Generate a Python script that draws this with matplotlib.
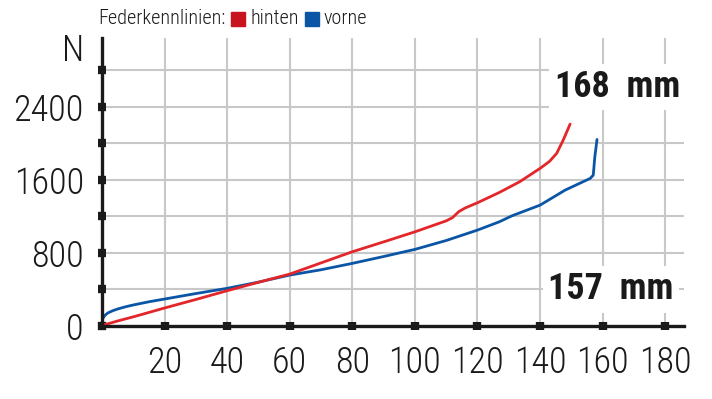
import matplotlib
matplotlib.use("Agg")
import matplotlib.pyplot as plt
from matplotlib import font_manager

# schmale Schrift suchen, sonst DejaVu
candidates = ["Roboto Condensed", "Archivo Narrow", "Liberation Sans Narrow",
              "PT Sans Narrow", "Barlow Condensed", "Fira Sans Condensed",
              "Encode Sans Condensed", "IBM Plex Sans Condensed", "DejaVu Sans"]
available = {f.name for f in font_manager.fontManager.ttflist}
FONT = next(c for c in candidates if c in available)
plt.rcParams["font.family"] = [FONT, "DejaVu Sans"]

# Federkennlinien (Weg in mm, Kraft in N)
hinten_x = [0, 2, 5, 10, 20, 30, 40, 50, 60, 70, 80, 90, 100, 110, 112, 114,
            116, 120, 127, 133.5, 140, 143, 145.3, 147.4, 149.6]
hinten_y = [10, 25, 55, 100, 197, 290, 386, 478, 568, 690, 812, 920, 1030,
            1150, 1185, 1250, 1290, 1348, 1461, 1578, 1724, 1800, 1888, 2033, 2208]
vorne_x = [0, 0.3, 0.7, 1.2, 2, 3.5, 5, 7.5, 10, 15, 20, 30, 40, 50, 60, 70,
           80, 90, 100, 110, 120, 127, 131, 140, 148, 156, 157, 157.5, 158.2]
vorne_y = [60, 85, 105, 125, 145, 168, 186, 210, 230, 265, 295, 355, 412, 480,
           557, 615, 685, 760, 838, 935, 1049, 1140, 1205, 1322, 1486, 1614,
           1650, 1850, 2040]

x_ticks = [0, 20, 40, 60, 80, 100, 120, 140, 160, 180]
x_labels = ["", "20", "40", "60", "80", "100", "120", "140", "160", "180"]
y_ticks = [0, 400, 800, 1200, 1600, 2000, 2400, 2800]
y_labels = ["0", "", "800", "", "1600", "", "2400", ""]

RED = "#e3262a"
BLUE = "#0b55a6"
GRID = "#c8c8c8"
INK = "#1a1a1a"

fig = plt.figure(figsize=(7.12, 3.99), dpi=100)
ax = fig.add_axes([102 / 712, 73 / 399, (684 - 102) / 712, (361 - 73) / 399])

ax.plot(vorne_x, vorne_y, color=BLUE, lw=2.0, solid_capstyle="round", zorder=3)
ax.plot(hinten_x, hinten_y, color=RED, lw=2.0, solid_capstyle="round", zorder=3)

ax.set_xlim(0, 186)
ax.set_ylim(0, 3150)
ax.set_xticks(x_ticks)
ax.set_xticklabels(x_labels, fontweight="light")
ax.set_yticks(y_ticks)
ax.set_yticklabels(y_labels, fontweight="light")
ax.grid(True, color=GRID, lw=1.5, zorder=0)
ax.set_axisbelow(True)

for s in ["top", "right"]:
    ax.spines[s].set_visible(False)
for s in ["left", "bottom"]:
    ax.spines[s].set_color(INK)
    ax.spines[s].set_linewidth(2.4)
    ax.spines[s].set_zorder(4)

ax.tick_params(axis="both", direction="inout", length=6, width=6, color=INK,
               labelsize=26, labelcolor=INK)
ax.tick_params(axis="y", pad=10)
ax.tick_params(axis="x", pad=11)

ax.text(-0.03, 0.955, "N", transform=ax.transAxes, fontsize=26, color=INK,
        fontweight="light", ha="right", va="center")

box = dict(facecolor="white", edgecolor="none", pad=4)
ax.text(0.993, 0.83, "168  mm", transform=ax.transAxes, fontsize=26,
        fontweight="bold", color=INK, ha="right", va="center", bbox=box, zorder=5)
ax.text(0.982, 0.128, "157  mm", transform=ax.transAxes, fontsize=26,
        fontweight="bold", color=INK, ha="right", va="center", bbox=box, zorder=5)

# Legende oben: Text und Kästchen nacheinander setzen
W, H = 712, 399
renderer = fig.canvas.get_renderer()
x = 98
y_mid = H - 19
for label, col in [("Federkennlinien:", None), ("hinten", "#c8141e"), ("vorne", BLUE)]:
    if col is not None:
        fig.patches.append(plt.Rectangle((x / W, (y_mid - 7) / H), 14 / W, 14 / H,
                                         transform=fig.transFigure, color=col))
        x += 19
    t = fig.text(x / W, y_mid / H, label, fontsize=14.5, color=INK,
                 fontweight="light", va="center", ha="left")
    x += t.get_window_extent(renderer).width + 6

fig.savefig("out.png", dpi=100)
